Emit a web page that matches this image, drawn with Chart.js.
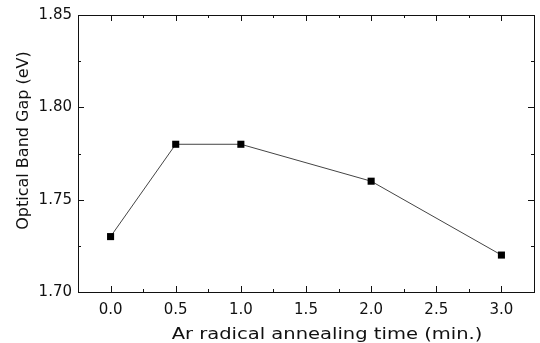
<!DOCTYPE html>
<html>
<head>
<meta charset="utf-8">
<script src="https://cdn.jsdelivr.net/npm/chart.js@4"></script>
<style>
  html, body { margin:0; padding:0; background:#fff; }
  #wrap { width:540px; height:343px; position:relative; }
</style>
</head>
<body>
<div id="wrap"><canvas id="gap"></canvas></div>
<script>
const times = [0.0, 0.5, 1.0, 2.0, 3.0];
const bandGap = [1.73, 1.78, 1.78, 1.76, 1.72];
const xTicks = [0.0, 0.5, 1.0, 1.5, 2.0, 2.5, 3.0];
const yTicks = [1.70, 1.75, 1.80, 1.85];

const ink = "#111";
const face = "'DejaVu Sans', 'Liberation Sans', Arial";

// shift / stretch an axis title a bit, the scanned figure isn't centred
function nudgeTitle(s, dx, dy, sx){
    if (s._nudged) return;
    const orig = s.drawTitle;
    s.drawTitle = function(){
        const ctx = this.ctx;
        const cx = (this.left + this.right) / 2;
        ctx.save();
        ctx.translate(cx + dx, dy);
        ctx.scale(sx, 1);
        ctx.translate(-cx, 0);
        orig.call(this);
        ctx.restore();
    };
    s._nudged = true;
}

// inward ticks on all four sides, major + minor
const tickMarks = {
    id: "tickMarks",
    afterDraw(c){
        const ctx = c.ctx, a = c.chartArea;
        const xs = c.scales.x, ys = c.scales.y;
        ctx.save();
        ctx.strokeStyle = ink;
        ctx.lineWidth = 1;
        ctx.beginPath();
        for (let v = -0.25; v <= 3.25; v += 0.25) {
            const px = Math.round(xs.getPixelForValue(v)) + 0.5;
            const major = xTicks.includes(Math.round(v * 100) / 100);
            const len = major ? 6 : 3;
            ctx.moveTo(px, a.bottom); ctx.lineTo(px, a.bottom - len);
            ctx.moveTo(px, a.top); ctx.lineTo(px, a.top + len);
        }
        for (let v = 1.70; v <= 1.8501; v += 0.025) {
            const py = Math.round(ys.getPixelForValue(v)) + 0.5;
            const major = yTicks.includes(Math.round(v * 100) / 100);
            const len = major ? 6 : 3;
            ctx.moveTo(a.left, py); ctx.lineTo(a.left + len, py);
            ctx.moveTo(a.right, py); ctx.lineTo(a.right - len, py);
        }
        ctx.stroke();
        ctx.strokeRect(a.left + 0.5, a.top + 0.5, a.right - a.left, a.bottom - a.top);
        ctx.restore();
    }
};

new Chart(document.getElementById("gap"), {
    type: "scatter",
    data: {
        datasets: [{
            data: times.map((t, i) => ({x: t, y: bandGap[i]})),
            showLine: true,
            borderColor: "#444",
            borderWidth: 1,
            backgroundColor: "#000",
            pointStyle: "rect",
            pointRadius: 5,
            pointBorderWidth: 0,
            pointBackgroundColor: "#000"
        }]
    },
    options: {
        responsive: true,
        maintainAspectRatio: false,
        animation: false,
        layout: { padding: { top: 15, right: 6, left: 0, bottom: 0 } },
        plugins: { legend: { display: false }, tooltip: { enabled: false } },
        scales: {
            x: {
                type: "linear",
                min: -0.25, max: 3.25,
                afterBuildTicks: s => { s.ticks = xTicks.map(v => ({value: v})); },
                afterFit: s => { s.height = 51; nudgeTitle(s, 21, 1, 1.22); },
                grid: { display: false, drawTicks: false },
                border: { display: false },
                ticks: {
                    color: ink, padding: 9,
                    font: { family: face, size: 15 },
                    callback: v => v.toFixed(1)
                },
                title: {
                    display: true,
                    text: "Ar radical annealing time (min.)",
                    color: ink,
                    padding: { top: 0, bottom: 0 },
                    font: { family: face, size: 16 }
                }
            },
            y: {
                min: 1.70, max: 1.85,
                afterBuildTicks: s => { s.ticks = yTicks.map(v => ({value: v})); },
                afterFit: s => { s.width = 78; nudgeTitle(s, 0, -13, 1); },
                grid: { display: false, drawTicks: false },
                border: { display: false },
                ticks: {
                    color: ink, padding: 6,
                    font: { family: face, size: 15 },
                    callback: v => v.toFixed(2)
                },
                title: {
                    display: true,
                    text: "Optical Band Gap (eV)",
                    color: ink,
                    padding: { top: 14, bottom: 0 },
                    font: { family: face, size: 16 }
                }
            }
        }
    },
    plugins: [tickMarks]
});
</script>
</body>
</html>
